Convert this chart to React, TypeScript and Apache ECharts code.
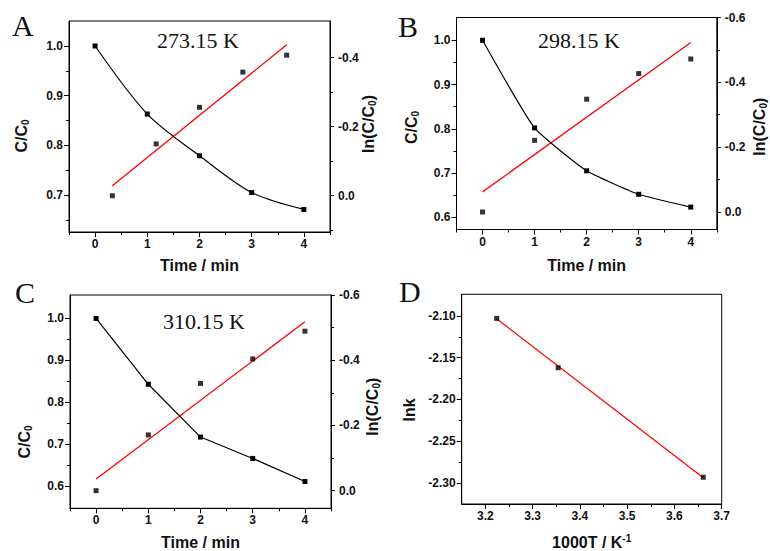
import React, { useEffect, useRef } from "react";
import * as echarts from "echarts";

// ---------- data ----------
const timeMin = [0, 1, 2, 3, 4];

const ccA = [1.0, 0.863, 0.779, 0.705, 0.671];
const lnTimeA = [0.33, 1.17, 2.0, 2.83, 3.67];
const lnA = [0.0, -0.15, -0.256, -0.358, -0.407];
const fitTimeA = [0.33, 3.67];
const fitA = [-0.029, -0.437];

const ccB = [1.0, 0.802, 0.705, 0.652, 0.623];
const lnB = [0.0, -0.221, -0.348, -0.427, -0.472];
const fitTimeB = [0, 4];
const fitB = [-0.062, -0.523];

const ccC = [1.0, 0.843, 0.717, 0.666, 0.611];
const lnC = [0.0, -0.171, -0.329, -0.404, -0.489];
const fitTimeC = [0, 4];
const fitC = [-0.036, -0.518];

const invT = [3.224, 3.354, 3.661];
const lnk = [-2.103, -2.162, -2.293];
const fitInvT = [3.224, 3.661];
const fitLnk = [-2.1035, -2.2935];

// ---------- ticks ----------
const timeTicks = [0, 1, 2, 3, 4];
const timeMinor = [-0.5, 0.5, 1.5, 2.5, 3.5, 4.5];
const ccTicksA = [0.7, 0.8, 0.9, 1.0];
const ccTicks = [0.6, 0.7, 0.8, 0.9, 1.0];
const ccMinor = [0.65, 0.75, 0.85, 0.95];
const lnTicksA = [-0.4, -0.2, 0.0];
const lnMinorA = [-0.3, -0.1, 0.1];
const lnTicks = [-0.6, -0.4, -0.2, 0.0];
const lnMinor = [-0.5, -0.3, -0.1];
const invTTicks = [3.2, 3.3, 3.4, 3.5, 3.6, 3.7];
const invTMinor = [3.25, 3.35, 3.45, 3.55, 3.65];
const lnkTicks = [-2.3, -2.25, -2.2, -2.15, -2.1];
const lnkMinor = [-2.275, -2.225, -2.175, -2.125];

const pair = (xs: number[], ys: number[]) => xs.map((x, i) => [x, ys[i]]);

const SANS = '"Liberation Sans", Arial, sans-serif';
const SERIF = '"Liberation Serif", "Times New Roman", serif';
const INK = "#111";

function labelStyle(digits: number, margin: number, ticks: number[]) {
  return {
    show: true,
    customValues: ticks,
    formatter: (v: number) => v.toFixed(digits),
    fontFamily: SANS,
    fontWeight: "bold",
    fontSize: 12,
    color: INK,
    margin,
  };
}

function majorAxis(grid: number, min: number, max: number, ticks: number[], digits: number, extra: any = {}, margin = 6, tickLen = 5) {
  return {
    type: "value",
    gridIndex: grid,
    min,
    max,
    axisLine: { show: true, onZero: false, lineStyle: { color: "#000", width: 1 } },
    axisTick: { show: true, inside: false, length: tickLen, customValues: ticks, lineStyle: { color: "#000", width: 1 } },
    axisLabel: labelStyle(digits, margin, ticks),
    splitLine: { show: false },
    ...extra,
  };
}

function minorAxis(grid: number, min: number, max: number, ticks: number[], extra: any = {}) {
  return {
    type: "value",
    gridIndex: grid,
    min,
    max,
    axisLine: { show: false, onZero: false },
    axisTick: { show: true, inside: false, length: 3, customValues: ticks, lineStyle: { color: "#000", width: 1 } },
    axisLabel: { show: false },
    splitLine: { show: false },
    ...extra,
  };
}

const xName = (name: string, gap: number, rich?: any) => ({
  name,
  nameLocation: "middle",
  nameGap: gap,
  nameTextStyle: { fontFamily: SANS, fontWeight: "bold", fontSize: 16, color: INK, rich },
});

const subRich = {
  a: { fontFamily: SANS, fontWeight: "bold", fontSize: 16, color: INK, lineHeight: 18 },
  s: { fontFamily: SANS, fontWeight: "bold", fontSize: 10, color: INK, verticalAlign: "bottom", lineHeight: 12 },
  p: { fontFamily: SANS, fontWeight: "bold", fontSize: 10, color: INK, verticalAlign: "top", lineHeight: 12 },
};

const vTitle = (text: string, x: number, y: number) => ({
  type: "text",
  x,
  y,
  rotation: Math.PI / 2,
  style: {
    text,
    align: "center",
    verticalAlign: "middle",
    fontFamily: SANS,
    fontWeight: "bold",
    fontSize: 16,
    fill: INK,
    rich: subRich,
  },
});

const label = (text: string, x: number, y: number, size: number) => ({
  type: "text",
  x,
  y,
  style: { text, fontFamily: SERIF, fontSize: size, fill: "#111", align: "left", verticalAlign: "middle" },
});

function kineticSeries(xBase: number, yBase: number, cc: number[], lnT: number[], ln: number[], fitT: number[], fit: number[], smooth: number) {
  return [
    {
      type: "line",
      xAxisIndex: xBase,
      yAxisIndex: yBase,
      data: pair(timeMin, cc),
      smooth,
      symbol: "rect",
      symbolSize: 5,
      itemStyle: { color: "#000" },
      lineStyle: { color: "#000", width: 1.2 },
      z: 3,
    },
    {
      type: "line",
      xAxisIndex: xBase,
      yAxisIndex: yBase + 2,
      data: pair(fitT, fit),
      symbol: "none",
      lineStyle: { color: "#ff0000", width: 1.3 },
      z: 2,
    },
    {
      type: "scatter",
      xAxisIndex: xBase,
      yAxisIndex: yBase + 2,
      data: pair(lnT, ln),
      symbol: "rect",
      symbolSize: 5,
      itemStyle: { color: "#000" },
      z: 4,
    },
  ];
}

export default function App() {
  const ref = useRef<HTMLDivElement>(null);
  useEffect(() => {
    if (!ref.current) return;
    const chart = echarts.init(ref.current, null, { renderer: "svg" });
    const gridBase = { show: true, borderColor: "#000", borderWidth: 1, backgroundColor: "transparent", containLabel: false };
    const option: any = {
      animation: false,
      backgroundColor: "#fff",
      grid: [
        { ...gridBase, left: 69, top: 21, width: 261, height: 211 },
        { ...gridBase, left: 456.5, top: 17.5, width: 260.3, height: 212 },
        { ...gridBase, left: 70, top: 295, width: 261, height: 214.3 },
        { ...gridBase, left: 461.7, top: 294.3, width: 260, height: 210.7 },
      ],
      xAxis: [
        majorAxis(0, -0.5, 4.5, timeTicks, 0, { position: "bottom", ...xName("Time / min", 25) }),
        minorAxis(0, -0.5, 4.5, timeMinor, { position: "bottom" }),
        majorAxis(1, -0.5, 4.5, timeTicks, 0, { position: "bottom", ...xName("Time / min", 27.5) }),
        minorAxis(1, -0.5, 4.5, timeMinor, { position: "bottom" }),
        majorAxis(2, -0.5, 4.5, timeTicks, 0, { position: "bottom", ...xName("Time / min", 25.7) }),
        minorAxis(2, -0.5, 4.5, timeMinor, { position: "bottom" }),
        majorAxis(3, 3.15, 3.7, invTTicks, 1, {
          position: "bottom",
          ...xName("{a|1000T / K}{p|-1}", 29, subRich),
        }),
        minorAxis(3, 3.15, 3.7, invTMinor, { position: "bottom" }),
      ],
      yAxis: [
        // A
        majorAxis(0, 0.6256, 1.0503, ccTicksA, 1, { position: "left" }),
        minorAxis(0, 0.6256, 1.0503, ccMinor, { position: "left" }),
        majorAxis(0, -0.506, 0.105, lnTicksA, 1, { position: "right", inverse: true }, 8, 4),
        minorAxis(0, -0.506, 0.105, lnMinorA, { position: "right", inverse: true }),
        // B
        majorAxis(1, 0.5724, 1.0515, ccTicks, 1, { position: "left" }),
        minorAxis(1, 0.5724, 1.0515, ccMinor, { position: "left" }),
        majorAxis(1, -0.6, 0.054, lnTicks, 1, { position: "right", inverse: true }, 8, 4),
        minorAxis(1, -0.6, 0.054, lnMinor, { position: "right", inverse: true }),
        // C
        majorAxis(2, 0.547, 1.056, ccTicks, 1, { position: "left" }),
        minorAxis(2, 0.547, 1.056, ccMinor, { position: "left" }),
        majorAxis(2, -0.6, 0.054, lnTicks, 1, { position: "right", inverse: true }, 8, 4),
        minorAxis(2, -0.6, 0.054, lnMinor, { position: "right", inverse: true }),
        // D
        majorAxis(3, -2.325, -2.0742, lnkTicks, 2, { position: "left" }),
        minorAxis(3, -2.325, -2.0742, lnkMinor, { position: "left" }),
      ],
      series: [
        ...kineticSeries(0, 0, ccA, lnTimeA, lnA, fitTimeA, fitA, 0.3),
        ...kineticSeries(2, 4, ccB, timeMin, lnB, fitTimeB, fitB, 0.15),
        ...kineticSeries(4, 8, ccC, timeMin, lnC, fitTimeC, fitC, 0),
        {
          type: "line",
          xAxisIndex: 6,
          yAxisIndex: 12,
          data: pair(fitInvT, fitLnk),
          symbol: "none",
          lineStyle: { color: "#ff0000", width: 1.3 },
          z: 2,
        },
        {
          type: "scatter",
          xAxisIndex: 6,
          yAxisIndex: 12,
          data: pair(invT, lnk),
          symbol: "rect",
          symbolSize: 5,
          itemStyle: { color: "#000" },
          z: 4,
        },
      ],
      graphic: [
        label("A", 12, 25, 30),
        label("B", 398, 26, 30),
        label("C", 15, 292, 30),
        label("D", 399, 291, 30),
        label("273.15 K", 157, 40, 22),
        label("298.15 K", 538, 40, 22),
        label("310.15 K", 163, 321.5, 22),
        vTitle("{a|C/C}{s|0}", 21, 136),
        vTitle("{a|ln(C/C}{s|0}{a|)}", 368, 124),
        vTitle("{a|C/C}{s|0}", 411, 127.5),
        vTitle("{a|ln(C/C}{s|0}{a|)}", 759, 126.7),
        vTitle("{a|C/C}{s|0}", 24.5, 442),
        vTitle("{a|ln(C/C}{s|0}{a|)}", 372.5, 406.7),
        vTitle("{a|lnk}", 409, 410),
      ],
    };
    chart.setOption(option);
    return () => chart.dispose();
  }, []);
  return (
    <div
      ref={ref}
      style={{ position: "fixed", left: 0, top: 0, width: 770, height: 551, background: "#fff" }}
    />
  );
}
